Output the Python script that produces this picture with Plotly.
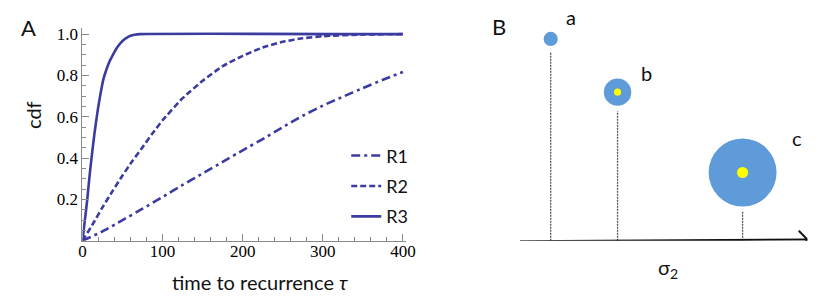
import plotly.graph_objects as go

W, H = 831, 301

# ---------------- Panel A data ----------------
t_r1 = [0, 25, 50, 75, 100, 125, 150, 175, 200, 225, 250, 275, 300, 325, 350, 375, 400]
cdf_r1 = [0, 0.045, 0.1, 0.155, 0.212, 0.27, 0.326, 0.382, 0.438, 0.492, 0.55, 0.605, 0.654, 0.697, 0.739, 0.779, 0.817]

t_r2 = [0, 12, 25, 37.5, 50, 62.5, 75, 87.5, 100, 125, 150, 175, 200, 225, 250, 275, 300, 350, 400]
cdf_r2 = [0, 0.075, 0.162, 0.24, 0.316, 0.387, 0.453, 0.52, 0.583, 0.69, 0.774, 0.845, 0.895, 0.935, 0.963, 0.98, 0.99, 0.998, 1.0]

t_r3 = [0, 3, 6, 9, 12.5, 15, 19, 22, 26, 30, 34, 38, 42, 46, 50, 55, 60, 65, 72, 400]
cdf_r3 = [0, 0.1, 0.2, 0.32, 0.44, 0.52, 0.63, 0.7, 0.78, 0.83, 0.87, 0.9, 0.928, 0.95, 0.967, 0.982, 0.992, 0.997, 1.0, 1.0]

series_names = ["R1", "R2", "R3"]
x_ticks = [0, 100, 200, 300, 400]
y_ticks = [0.2, 0.4, 0.6, 0.8, 1.0]
y_tick_labels = ["0.2", "0.4", "0.6", "0.8", "1.0"]

# ---------------- Panel B data (schematic) ----------------
point_labels = ["a", "b", "c"]
sigma2 = [0.46, 1.46, 3.33]
height = [1.005, 0.74, 0.34]
stem_top = [0.94, 0.645, 0.15]
outer_size = [14, 27, 67]
inner_size = [0, 7, 11]

# layout helpers (pixel positions of the reference -> paper fractions)
K, OFF = 0.986, 3.2


def px(x):
    return ((x - OFF) / K) / W


def py(y):
    return (H - (y - OFF) / K) / H


def sz(s):
    return s / K


LINE = "#3b3ba0"
fig = go.Figure()

dashes = ["9px,4px,3px,4px", "6px,3px", "solid"]
for name, tx, vy, d in zip(series_names, [t_r1, t_r2, t_r3], [cdf_r1, cdf_r2, cdf_r3], dashes):
    fig.add_trace(go.Scatter(
        x=tx, y=vy, mode="lines", name=name, legendgroup=name,
        line=dict(color=LINE, width=2.6, dash=d, shape="spline", smoothing=0.5),
        xaxis="x", yaxis="y",
    ))

# Panel B stems
for s, top in zip(sigma2, stem_top):
    fig.add_trace(go.Scatter(
        x=[s, s], y=[0, top], mode="lines", showlegend=False,
        line=dict(color="#555555", width=1.3, dash="2px,1px"),
        xaxis="x2", yaxis="y2", hoverinfo="skip",
    ))

# Panel B circles
fig.add_trace(go.Scatter(
    x=sigma2, y=height, mode="markers", showlegend=False, cliponaxis=False,
    marker=dict(size=[sz(s) for s in outer_size], color="#5f9bd8", opacity=1, line=dict(width=0)),
    xaxis="x2", yaxis="y2",
))
fig.add_trace(go.Scatter(
    x=sigma2[1:], y=height[1:], mode="markers", showlegend=False, cliponaxis=False,
    marker=dict(size=[sz(s) for s in inner_size[1:]], color="#ffff00", opacity=1, line=dict(width=0)),
    xaxis="x2", yaxis="y2",
))

axis_common = dict(
    showgrid=False, zeroline=False, showline=True, linecolor="#8a8a8a", linewidth=1,
    ticks="inside", tickcolor="#8a8a8a", ticklen=7, tickwidth=1,
    tickfont=dict(family="Liberation Serif", size=17, color="#000000"),
)

fig.update_layout(
    autosize=True,
    margin=dict(l=0, r=0, t=0, b=0),
    paper_bgcolor="white", plot_bgcolor="white",
    xaxis=dict(
        domain=[px(81.8), px(81.8 + 404 * 0.8025)], range=[0, 404],
        tickvals=x_ticks, anchor="y", ticklabelstandoff=-5,
        minor=dict(dtick=20, tick0=0, ticks="inside", ticklen=4, tickcolor="#8a8a8a"),
        **axis_common,
    ),
    yaxis=dict(
        domain=[py(240), py(240 - 1.03 * 205.8)], range=[0, 1.03],
        tickvals=y_ticks, ticktext=y_tick_labels, anchor="x",
        minor=dict(dtick=0.05, tick0=0, ticks="inside", ticklen=4, tickcolor="#8a8a8a"),
        **axis_common,
    ),
    xaxis2=dict(domain=[px(520), px(808)], range=[0, 4.3], visible=False, anchor="y2"),
    yaxis2=dict(domain=[py(240), py(10)], range=[0, 1.15], visible=False, anchor="x2"),
    legend=dict(
        x=px(346), y=py(137), xanchor="left", yanchor="top",
        font=dict(family="Lato", size=18, color="#111111"),
        bgcolor="rgba(0,0,0,0)", traceorder="grouped", tracegroupgap=4,
    ),
    showlegend=True,
)

# Arrow axis in panel B
fig.add_shape(type="line", xref="x2", yref="y2", x0=0, y0=-0.003, x1=4.3, y1=0.006,
              line=dict(color="#111111", width=2))
fig.add_shape(type="path", xref="x2", yref="y2",
              path="M 4.17,0.05 L 4.3,0.006 L 4.17,-0.038",
              line=dict(color="#111111", width=2))

sans = "Lato"
texts = [
    ("A", 28, 28, 22, 0),
    ("cdf", 33, 115, 20, -90),
    ("time to recurrence <i>τ</i>", 260, 281, 20, 0),
    ("B", 499, 27, 22, 0),
    ("a", 571, 17, 20, 0),
    ("b", 647, 73, 20, 0),
    ("c", 798, 138, 20, 0),
    ("σ<sub>2</sub>", 668, 268, 20, 0),
]
for txt, x, y, s, rot in texts:
    fig.add_annotation(text=txt, x=px(x), y=py(y), xref="paper", yref="paper",
                       showarrow=False, xanchor="center", yanchor="middle",
                       textangle=rot, font=dict(family=sans, size=s, color="#111111"))

fig.write_html(
    "out.html",
    default_width="100vw",
    default_height="100vh",
    config={"displayModeBar": False, "responsive": True},
    post_script=(
        "document.body.style.margin='0';"
        "document.documentElement.style.overflow='hidden';"
        "document.body.style.overflow='hidden';"
        "Plotly.Plots.resize(document.getElementById('{plot_id}'));"
    ),
)
